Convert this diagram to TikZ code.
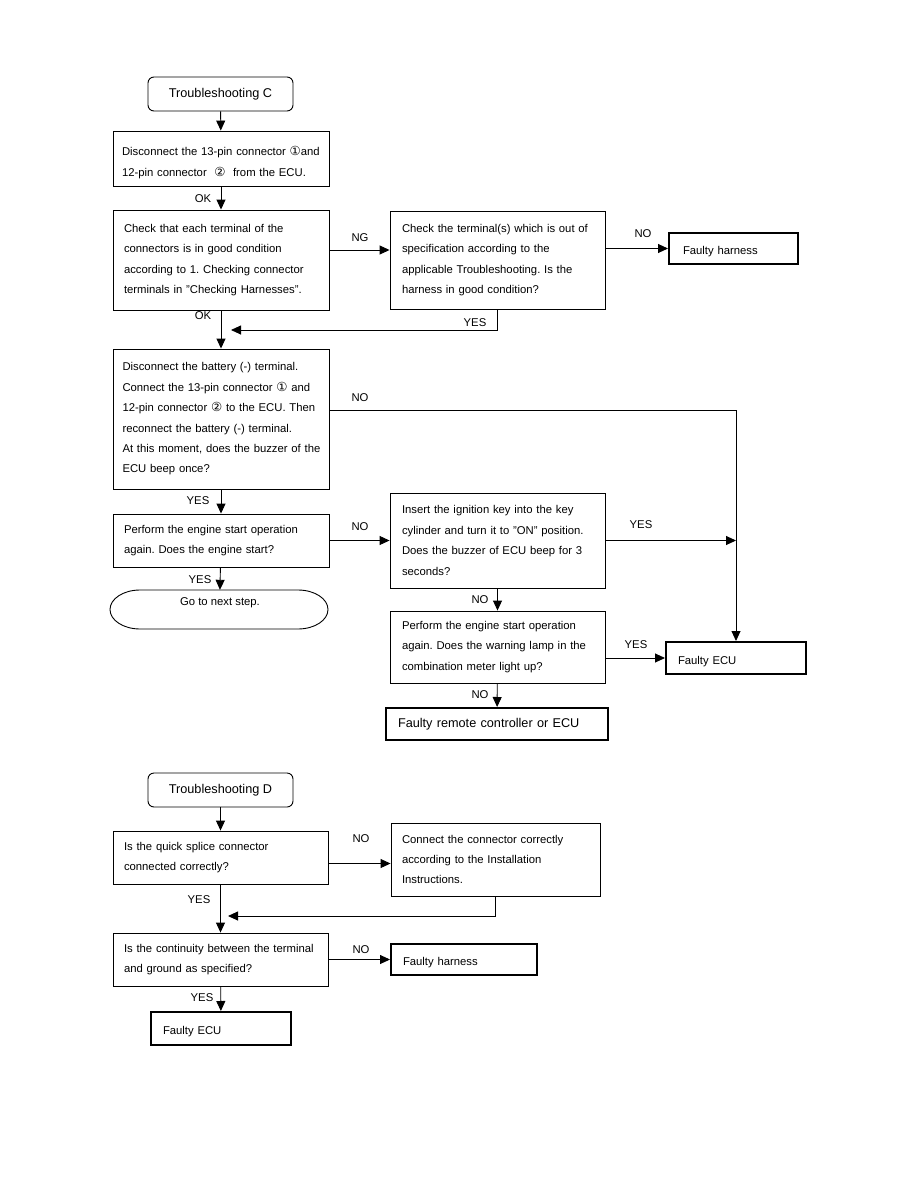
\documentclass[tikz,border=0pt]{standalone}
\usepackage{fontspec}
\setmainfont{Liberation Sans}
\newfontfamily\dejavu{DejaVu Sans}
\usetikzlibrary{arrows.meta,calc}
\frenchspacing
\newcommand{\myfont}{\fontsize{11.3}{20.4}\selectfont\frenchspacing}
\newcommand{\bigfnt}{\fontsize{12.7}{15}\selectfont}
\newcommand{\cone}{{\dejavu\fontsize{12.5}{10}\selectfont ①}}
\newcommand{\ctwo}{{\dejavu\fontsize{12.5}{10}\selectfont ②}}
\newcommand{\J}[2]{\makebox[#1][s]{#2}}
\newcommand{\dn}[1]{\raisebox{-3pt}[8pt][2pt]{#1}}
\begin{document}
\begin{tikzpicture}[x=1pt,y=-1pt,
  box/.style={draw, line width=0.9pt, inner ysep=0pt, align=left, font=\myfont},
  endbox/.style={draw, line width=2pt, inner ysep=0pt, align=left, font=\myfont},
  tsbox/.style={draw, line width=0.9pt, rounded corners=6pt, font=\bigfnt, minimum width=145pt, minimum height=34pt},
  lab/.style={font=\myfont, inner sep=0pt},
  ln/.style={line width=0.9pt},
  arr/.style={line width=0.9pt, -{Triangle[length=10pt,width=9pt]}}]
\fill[white] (0,0) rectangle (918,1188);
\useasboundingbox (0,0) rectangle (918,1188);

% ---------- Troubleshooting C ----------
\node[tsbox] (tsC) at (220.5,94) {Troubleshooting C};
\node[box, minimum width=216pt, minimum height=55pt, text width=198pt, inner xsep=9pt] (b1) at (221,158.5)
 {\rule{0pt}{17pt}\mbox{Disconnect the 13-pin connector \cone{}and}\\12-pin connector \ \ctwo\ \ from the ECU.};
\node[box, minimum width=216pt, minimum height=100pt, text width=194pt, inner xsep=11pt] (b2) at (221,260)
 {Check that each terminal of the\\connectors is in good condition\\according to 1. Checking connector\\terminals in "Checking Harnesses".};
\node[box, minimum width=215pt, minimum height=98pt, text width=191pt, inner xsep=12pt] (b3) at (497.5,260)
 {Check the terminal(s) which is out of\\specification according to the\\applicable Troubleshooting. Is the\\harness in good condition?};
\node[endbox, minimum width=129pt, minimum height=31pt, text width=101pt, inner xsep=14pt] (fh1) at (733.5,248.5)
 {\dn{Faulty harness}};
\node[box, minimum width=216pt, minimum height=140pt, text width=197pt, inner xsep=9.5pt] (b4) at (221,419)
 {\J{197pt}{Disconnect the battery (-) terminal.}\\
  \J{197pt}{Connect the 13-pin connector \cone{} and}\\
  \J{197pt}{12-pin connector \ctwo{} to the ECU. Then}\\
  reconnect the battery (-) terminal.\\
  \J{197pt}{At this moment, does the buzzer of the}\\
  ECU beep once?};
\node[box, minimum width=216pt, minimum height=53pt, text width=194pt, inner xsep=11pt] (b5) at (221,540.5)
 {Perform the engine start operation\\again. Does the engine start?};
\node[minimum width=217pt, minimum height=39pt, inner sep=0pt] (end1) at (219.5,609.5) {};
\draw[ln] (140,590) -- (298,590) arc[start angle=90, end angle=-90, x radius=30pt, y radius=19.5pt]
  -- (140,629) arc[start angle=270, end angle=90, x radius=30pt, y radius=19.5pt] -- cycle;
\node[lab] (end1t) at (220,603) {Go to next step.};
\node[box, minimum width=215pt, minimum height=95pt, text width=191pt, inner xsep=12pt] (b6) at (497.5,540.5)
 {Insert the ignition key into the key\\cylinder and turn it to "ON" position.\\\J{191pt}{Does the buzzer of ECU beep for 3}\\seconds?};
\node[box, minimum width=215pt, minimum height=72pt, text width=191pt, inner xsep=12pt] (b7) at (497.5,647)
 {Perform the engine start operation\\again. Does the warning lamp in the\\combination meter light up?};
\node[endbox, minimum width=140pt, minimum height=32pt, text width=116pt, inner xsep=12pt] (ecu1) at (736,658)
 {\dn{Faulty ECU}};
\node[endbox, minimum width=222pt, minimum height=32pt, text width=198pt, inner xsep=12pt, font=\bigfnt] (frc) at (497,724)
 {Faulty remote controller or ECU};

% connectors C
\draw[arr] (tsC) -- (b1);
\draw[arr] (b1) -- (b2);
\draw[arr] ([yshift=10pt]b2.east) -- ([yshift=10pt]b3.west);
\draw[arr] (b3.east |- fh1.west) -- (fh1.west);
\coordinate (m1) at (231,330);
\draw[arr] (b3.south) |- (m1);
\draw[arr] (b2) -- (b4);
\draw[arr] ([yshift=9pt]b4.east) -| (ecu1.north);
\draw[arr] (b4) -- (b5);
\draw[arr] (b5) -- (end1);
\draw[arr] (b5.east) -- (b6.west);
\draw[arr] (b6.east) -- (b6.east -| ecu1.north);
\draw[arr] (b6) -- (b7);
\draw[arr] (b7.east |- ecu1.west) -- (ecu1.west);
\draw[arr] (b7) -- (frc);

% labels C
\node[lab] (l1) at (203,199) {OK};
\node[lab] (l2) at (360,238) {NG};
\node[lab] (l3) at (643,234) {NO};
\node[lab] (l4) at (475,323) {YES};
\node[lab] (l5) at (203,316) {OK};
\node[lab] (l6) at (360,398) {NO};
\node[lab] (l7) at (198,501) {YES};
\node[lab] (l8) at (360,527) {NO};
\node[lab] (l9) at (200,580) {YES};
\node[lab] (l10) at (641,525) {YES};
\node[lab] (l11) at (480,600) {NO};
\node[lab] (l12) at (636,645) {YES};
\node[lab] (l13) at (480,695) {NO};

% ---------- Troubleshooting D ----------
\node[tsbox] (tsD) at (220.5,790) {Troubleshooting D};
\node[box, minimum width=215pt, minimum height=53pt, text width=193pt, inner xsep=11pt] (b8) at (220.5,857.5)
 {Is the quick splice connector\\connected correctly?};
\node[box, minimum width=209pt, minimum height=73pt, text width=187pt, inner xsep=11pt] (b9) at (495.5,859.5)
 {Connect the connector correctly\\according to the Installation\\Instructions.};
\node[box, minimum width=215pt, minimum height=53pt, text width=193pt, inner xsep=11pt] (b10) at (220.5,959.5)
 {\J{193pt}{Is the continuity between the terminal}\\and ground as specified?};
\node[endbox, minimum width=146pt, minimum height=31pt, text width=122pt, inner xsep=12pt] (fh2) at (464,959.5)
 {\dn{Faulty harness}};
\node[endbox, minimum width=140pt, minimum height=33pt, text width=116pt, inner xsep=12pt] (ecu2) at (221,1028.5)
 {\dn{Faulty ECU}};

\draw[arr] (tsD) -- (b8);
\draw[arr] ([yshift=-6pt]b8.east) -- ([yshift=-6pt]b8.east -| b9.west);
\draw[arr] (b8) -- (b10);
\coordinate (m2) at (228,916);
\draw[arr] (b9.south) |- (m2);
\draw[arr] (b10.east) -- (b10.east -| fh2.west);
\draw[arr] (b10) -- (ecu2);

\node[lab] (l14) at (361,839) {NO};
\node[lab] (l15) at (199,900) {YES};
\node[lab] (l16) at (361,950) {NO};
\node[lab] (l17) at (202,998) {YES};
\end{tikzpicture}
\end{document}
